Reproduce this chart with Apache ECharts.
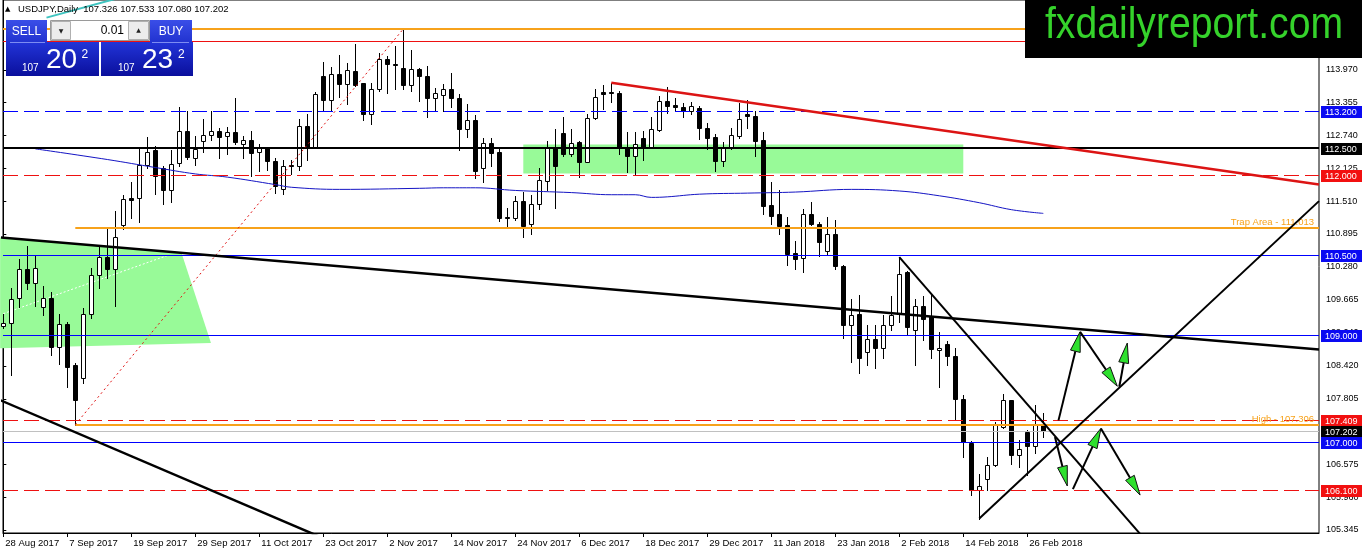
<!DOCTYPE html>
<html><head><meta charset="utf-8">
<script src="https://cdn.jsdelivr.net/npm/echarts@6/dist/echarts.min.js"></script>
<style>html,body{margin:0;padding:0;background:#fff;}#c{width:1362px;height:554px;}</style>
</head><body><div id="c"></div>
<script>
// ---------- DATA ----------
const symbolName = 'USDJPY,Daily';
const startDate = [2017, 7, 28];               // 28 Aug 2017 (month 0-based)
const noBarDays = ['2017-12-25', '2018-01-01'];
const labelEveryBars = 8;

const opens = [109.16,109.22,109.69,110.23,109.97,109.52,109.70,108.77,109.20,108.43,
 108.19,109.39,110.12,110.47,110.23,111.07,111.57,111.57,112.19,112.46,
 112.14,111.71,112.23,112.83,112.32,112.63,112.75,112.83,112.73,112.81,
 112.58,112.66,112.44,112.50,112.27,111.74,112.19,112.16,112.92,112.52,
 113.86,113.41,113.89,113.71,113.95,113.72,113.15,113.61,114.17,114.08,
 114.00,113.68,113.98,113.85,113.44,113.50,113.61,113.44,112.86,113.03,
 112.13,112.60,112.44,111.21,111.20,111.52,111.09,111.46,111.88,112.50,
 112.79,112.39,112.61,112.25,113.07,113.55,113.56,113.53,112.50,112.36,
 112.70,112.52,112.85,113.39,113.32,113.28,113.20,113.25,112.88,112.72,
 112.27,112.52,112.74,113.15,113.11,112.65,111.43,111.26,111.07,110.53,
 110.45,111.27,111.08,110.57,110.90,110.30,109.19,109.40,108.69,108.93,
 108.75,109.18,109.40,110.19,109.09,109.55,109.35,108.71,108.84,108.60,
 107.81,106.97,106.09,106.31,106.57,107.28,107.78,106.75,107.18,106.92,
 107.326];
const highs = [109.40,109.89,110.43,110.66,110.49,109.91,109.81,109.39,109.25,108.47,
 109.50,110.25,110.66,111.00,111.33,111.63,111.87,112.49,112.72,112.55,
 112.17,112.46,113.27,113.20,112.73,113.05,113.19,112.89,112.90,113.44,
 112.73,112.83,112.59,112.53,112.32,112.28,112.29,113.05,113.14,113.56,
 114.11,114.03,114.25,114.09,114.46,113.73,113.73,114.29,114.23,114.42,
 114.737,114.34,114.01,114.05,113.63,113.71,113.92,113.52,113.33,113.13,
 112.70,112.69,112.50,111.39,111.61,111.69,111.63,112.13,112.64,112.86,
 113.09,112.86,112.64,113.15,113.61,113.69,113.73,113.58,112.80,112.80,
 112.83,113.08,113.48,113.64,113.45,113.34,113.36,113.30,112.98,112.77,
 112.61,112.89,113.34,113.40,113.20,112.80,111.86,111.71,111.21,110.77,
 111.36,111.49,111.11,111.21,111.16,110.32,109.68,109.75,109.18,109.18,
 109.37,109.74,110.46,110.20,109.68,109.74,109.75,109.05,108.88,108.76,
 107.87,107.01,106.39,106.71,107.37,107.90,107.79,107.03,107.22,107.68,
 107.533];
const lows = [109.14,108.26,109.52,109.87,109.54,109.37,108.62,108.45,108.02,107.32,
 108.10,109.31,109.89,110.06,109.54,110.99,111.20,111.11,112.14,111.64,
 111.46,111.49,112.17,112.30,112.19,112.44,112.66,112.32,112.40,112.59,
 112.32,111.99,112.07,112.09,111.67,111.64,112.01,112.10,112.28,112.51,
 113.22,113.22,113.46,113.33,113.67,113.03,112.95,113.58,113.53,113.61,
 113.62,113.58,113.38,113.08,113.20,113.20,113.28,112.47,112.72,111.94,
 111.86,112.17,111.14,111.05,111.16,110.83,110.90,111.36,111.72,111.39,
 112.36,112.36,111.97,112.24,113.04,113.24,113.36,112.39,112.05,112.01,
 112.29,112.50,112.83,113.17,113.20,113.09,113.14,112.67,112.49,112.07,
 112.17,112.49,112.70,112.89,112.36,111.27,111.08,110.90,110.32,110.24,
 110.18,111.06,110.49,110.52,110.24,108.94,108.49,108.28,108.43,108.38,
 108.57,109.09,109.24,109.01,108.43,108.90,108.56,108.03,108.43,107.40,
 106.72,106.01,105.56,106.09,106.55,107.25,106.59,106.53,106.37,106.78,
 107.080];
const closes = [109.22,109.67,110.23,109.97,110.25,109.70,108.77,109.20,108.41,107.78,
 109.39,110.12,110.47,110.23,110.83,111.55,111.54,112.19,112.44,111.99,
 111.72,112.21,112.82,112.33,112.49,112.75,112.83,112.72,112.80,112.61,
 112.66,112.42,112.50,112.27,111.80,112.17,112.16,112.92,112.53,113.52,
 113.41,113.89,113.71,113.97,113.68,113.15,113.61,114.17,114.08,114.07,
 113.68,113.98,113.85,113.45,113.54,113.61,113.45,112.86,113.03,112.08,
 112.60,112.42,111.20,111.20,111.52,111.05,111.46,111.91,112.50,112.17,
 112.39,112.60,112.25,113.07,113.47,113.52,113.53,112.50,112.36,112.58,
 112.52,112.86,113.38,113.30,113.27,113.20,113.30,112.88,112.70,112.27,
 112.50,112.75,113.05,113.10,112.64,111.41,111.24,111.05,110.51,110.43,
 111.27,111.08,110.74,110.90,110.30,109.19,109.38,108.56,108.93,108.75,
 109.18,109.38,110.15,109.15,109.55,109.30,108.73,108.76,108.60,107.81,
 107.00,106.09,106.17,106.57,107.31,107.78,106.75,106.87,106.92,107.31,
 107.202];

// moving average read at sample bars
const maBars = [4,13,19,24,28,34,36,42,52,55,59,64,71,76,79,81,83,87,93,99,106,112,117,122,126,130];
const maValues = [112.49,112.29,112.14,112.02,111.96,111.82,111.77,111.73,111.75,111.76,111.76,111.71,111.67,111.63,111.63,111.58,111.59,111.64,111.66,111.68,111.73,111.70,111.61,111.48,111.35,111.28];

const priceTicks = [105.345,105.960,106.575,107.190,107.805,108.420,109.040,109.665,110.280,110.895,111.510,112.125,112.740,113.355,113.970];

// horizontal levels
const levelPrices = [114.737,114.510,113.200,112.500,112.000,110.500,109.000,107.409,107.202,107.000,106.100];
const levelKinds  = ['orange','red','blueDash','black','redDash','blue','blue','redDash','bid','blue','redDash'];
const levelBoxed  = [false,false,true,true,true,true,true,true,true,true,true];
const trapPrice = 111.013, trapText = 'Trap Area - 111.013';
const swingHighPrice = 107.306, swingHighText = 'High - 107.306';
const partialFromBar = 9;

const bidPrice = 107.202, askPrice = 107.232, lotSize = '0.01';

// trendlines [bar, price]
const redTrend = [[76,113.73],[164.46,111.82]];
const longBlackTrend = [[-0.4,110.83],[164.46,108.73]];
const lowerBlackTrend = [[-0.4,107.78],[50,104.55]];
const channelDown = [[112,110.46],[146,104.60]];
const channelUp = [[122,105.56],[164.46,111.51]];
const redDotted = [[9,107.32],[50,114.737]];
const whiteDotted = [[0,109.40],[20.5,110.49]];
const tealStroke = [[5.4,114.95],[14,115.30]];

// shaded zones (polygons in bar/price)
const zones = [
  [[-0.4,110.83],[22.3,110.53],[25.96,108.85],[-0.4,108.75]],
  [[65,112.57],[120,112.57],[120,112.03],[65,112.03]]
];
// arrows [fromBar, fromPrice, toBar, toPrice]
const arrows = [
  [131.9,107.40,134.6,109.06],
  [134.6,109.06,139.25,108.04],
  [139.5,108.03,140.5,108.85],
  [131.46,107.09,133.0,106.17],
  [133.7,106.11,137.2,107.25],
  [137.2,107.25,142.1,106.00]
];

// ---------- BUILD ----------
const FONT = '"Liberation Sans", Arial, sans-serif';
const ORANGE = '#f7a21b', RED = '#ee1111', BLUE = '#0000ff', BOXBLUE = '#0a0af2', BOXRED = '#f21010';
const X_MIN = -0.0375, X_MAX = 164.4625, Y_MIN = 105.289, Y_MAX = 115.280;

const months = ['Jan','Feb','Mar','Apr','May','Jun','Jul','Aug','Sep','Oct','Nov','Dec'];
const dates = [];
(function(){
  const d = new Date(Date.UTC(startDate[0], startDate[1], startDate[2]));
  while (dates.length < opens.length) {
    const wd = d.getUTCDay(), iso = d.toISOString().slice(0,10);
    if (wd !== 0 && wd !== 6 && noBarDays.indexOf(iso) < 0) dates.push(new Date(d.getTime()));
    d.setUTCDate(d.getUTCDate() + 1);
  }
})();
const dateLabel = i => { const d = dates[Math.round(i)]; return d ? d.getUTCDate() + ' ' + months[d.getUTCMonth()] + ' ' + d.getUTCFullYear() : ''; };
const tickBars = [];
for (let i = 0; i < opens.length; i += labelEveryBars) tickBars.push(i);

const candleData = opens.map((o, i) => [i, o, closes[i], lows[i], highs[i]]);
const maData = maBars.map((b, k) => [b, maValues[k]]);

const kindStyle = {
  orange:   {color: ORANGE, width: 2},
  red:      {color: RED, width: 1},
  blueDash: {color: BLUE, width: 1, dash: [15,6], box: BOXBLUE},
  black:    {color: '#000', width: 2, box: '#000'},
  redDash:  {color: RED, width: 1, dash: [15,6], box: BOXRED},
  blue:     {color: BLUE, width: 1, box: BOXBLUE},
  bid:      {color: '#c0c0c0', width: 1, box: '#000'}
};
const levels = levelPrices.map((p, k) => ({price: p, from: X_MIN, st: kindStyle[levelKinds[k]], boxed: levelBoxed[k]}));
levels.push({price: trapPrice, from: partialFromBar, st: kindStyle.orange, text: trapText});
levels.push({price: swingHighPrice, from: partialFromBar, st: kindStyle.orange, text: swingHighText});

function levelItem(params, api) {
  const lv = levels[params.dataIndex];
  const a = api.coord([lv.from, lv.price]), b = api.coord([X_MAX, lv.price]);
  const w = lv.st.width;
  const yr = Math.round(a[1]);
  const y = w % 2 === 1 ? yr + 0.5 : yr;
  const ch = [{type: 'line', shape: {x1: a[0], y1: y, x2: b[0], y2: y},
    style: {stroke: lv.st.color, lineWidth: w, lineDash: lv.st.dash || null}}];
  if (lv.boxed) {
    ch.push({type: 'rect', shape: {x: b[0] + 2, y: yr - 5, width: 41, height: 12}, style: {fill: lv.st.box}});
    ch.push({type: 'text', style: {x: b[0] + 6, y: yr + 1.5, text: lv.price.toFixed(3), fill: '#fff', font: '9px ' + FONT, verticalAlign: 'middle'}});
  }
  if (lv.text) {
    ch.push({type: 'text', style: {x: b[0] - 5, y: yr - 1, text: lv.text, fill: ORANGE, font: '9.5px ' + FONT, align: 'right', verticalAlign: 'bottom'}});
  }
  return {type: 'group', children: ch};
}
function candleItem(params, api) {
  const i = api.value(0), o = api.value(1), c = api.value(2), l = api.value(3), h = api.value(4);
  const pO = api.coord([i, o]), pC = api.coord([i, c]), pH = api.coord([i, h]), pL = api.coord([i, l]);
  const px = Math.round(pO[0]);
  const top = Math.round(Math.min(pO[1], pC[1])), bot = Math.round(Math.max(pO[1], pC[1]));
  const ch = [{type: 'line', shape: {x1: px + 0.5, y1: Math.round(pH[1]), x2: px + 0.5, y2: Math.round(pL[1]) + 1}, style: {stroke: '#000', lineWidth: 1}}];
  if (bot - top < 1) {
    ch.push({type: 'line', shape: {x1: px - 2, y1: top + 0.5, x2: px + 3, y2: top + 0.5}, style: {stroke: '#000', lineWidth: 1}});
  } else {
    ch.push({type: 'rect', shape: {x: px - 1.5, y: top + 0.5, width: 4, height: bot - top}, style: {fill: c > o ? '#fff' : '#000', stroke: '#000', lineWidth: 1}});
  }
  return {type: 'group', children: ch};
}
function zoneItem(params, api) {
  const pts = zones[params.dataIndex].map(v => api.coord(v));
  return {type: 'polygon', shape: {points: pts}, style: {fill: '#98fa98'}};
}
function arrowItem(params, api) {
  const a = api.coord([api.value(0), api.value(1)]), b = api.coord([api.value(2), api.value(3)]);
  const dx = b[0] - a[0], dy = b[1] - a[1], len = Math.hypot(dx, dy), ux = dx / len, uy = dy / len;
  const L = 20, W = 5;
  const bx = b[0] - ux * L, by = b[1] - uy * L;
  return {type: 'group', children: [
    {type: 'line', shape: {x1: a[0], y1: a[1], x2: bx, y2: by}, style: {stroke: '#000', lineWidth: 2}},
    {type: 'polygon', shape: {points: [[b[0], b[1]], [bx - uy * W, by + ux * W], [bx + uy * W, by - ux * W]]},
     style: {fill: '#2ee02e', stroke: '#111', lineWidth: 1}}
  ]};
}
function trend(data, color, width, type, z) {
  return {type: 'line', data: data, showSymbol: false, symbol: 'none', clip: true, silent: true, z: z || 6,
    lineStyle: {color: color, width: width, type: type || 'solid'}};
}

const n = opens.length - 1;
const header = symbolName + '  ' + [opens[n], highs[n], lows[n], closes[n]].map(v => v.toFixed(3)).join(' ');
const splitQuote = q => { const s = q.toFixed(3); return [s.slice(0,3), s.slice(4,6), s.slice(6)]; };
const bidParts = splitQuote(bidPrice), askParts = splitQuote(askPrice);
const grad = (a, b) => ({type: 'linear', x: 0, y: 0, x2: 0, y2: 1, colorStops: [{offset: 0, color: a}, {offset: 1, color: b}]});
const T = (x, y, text, font, fill, align) => ({type: 'text', z: 102, style: {x: x, y: y, text: text, font: font, fill: fill, align: align || 'left', verticalAlign: 'middle'}});

const graphics = [
  {type: 'rect', z: 100, shape: {x: 1025, y: 0, width: 337, height: 58}, style: {fill: '#000'}},
  {type: 'text', z: 102, x: 1194, y: 26, scaleX: 0.89, style: {x: 0, y: 0, text: 'fxdailyreport.com', font: '44px ' + FONT, fill: '#35d22b', align: 'center', verticalAlign: 'middle'}},
  T(5, 9, '▲', '7px "DejaVu Sans"', '#000'),
  T(18, 9.5, header, '9.5px ' + FONT, '#000'),
  {type: 'rect', z: 100, shape: {x: 6, y: 20, width: 41, height: 22}, style: {fill: grad('#3a4ee8', '#2233d0')}},
  {type: 'rect', z: 100, shape: {x: 150, y: 20, width: 42, height: 22}, style: {fill: grad('#3a4ee8', '#2233d0')}},
  {type: 'rect', z: 100, shape: {x: 6, y: 42, width: 93, height: 34}, style: {fill: grad('#2234d8', '#0a0f9c')}},
  {type: 'rect', z: 100, shape: {x: 101, y: 42, width: 92, height: 34}, style: {fill: grad('#2234d8', '#0a0f9c')}},
  {type: 'line', z: 101, shape: {x1: 10, y1: 42.5, x2: 45, y2: 42.5}, style: {stroke: '#7d8cf2', lineWidth: 1}},
  {type: 'line', z: 101, shape: {x1: 152, y1: 42.5, x2: 189, y2: 42.5}, style: {stroke: '#7d8cf2', lineWidth: 1}},
  {type: 'rect', z: 100, shape: {x: 50.5, y: 20.5, width: 99, height: 20}, style: {fill: '#fff', stroke: '#9a9a9a', lineWidth: 1}},
  {type: 'rect', z: 101, shape: {x: 51.5, y: 21.5, width: 19, height: 18}, style: {fill: '#ececec', stroke: '#b0b0b0', lineWidth: 1}},
  {type: 'rect', z: 101, shape: {x: 128.5, y: 21.5, width: 20, height: 18}, style: {fill: '#ececec', stroke: '#b0b0b0', lineWidth: 1}},
  T(61, 31, '▼', '6px "DejaVu Sans"', '#222', 'center'),
  T(138.5, 30.5, '▲', '6px "DejaVu Sans"', '#222', 'center'),
  T(124, 31, lotSize, '12px ' + FONT, '#000', 'right'),
  T(26.5, 31.5, 'SELL', '12px ' + FONT, '#fff', 'center'),
  T(171, 31.5, 'BUY', '12px ' + FONT, '#fff', 'center'),
  T(22, 68.5, bidParts[0], '10px ' + FONT, '#fff'),
  T(46, 60.5, bidParts[1], '28px ' + FONT, '#fff'),
  T(81.5, 54.5, bidParts[2], '12px ' + FONT, '#fff'),
  T(118, 68.5, askParts[0], '10px ' + FONT, '#fff'),
  T(142, 60.5, askParts[1], '28px ' + FONT, '#fff'),
  T(178, 54.5, askParts[2], '12px ' + FONT, '#fff')
];

const chart = echarts.init(document.getElementById('c'), null, {renderer: 'canvas'});
chart.setOption({
  animation: false,
  backgroundColor: '#fff',
  grid: {left: 3, right: 43, top: -1, bottom: 21, show: true, borderColor: '#000', borderWidth: 1},
  xAxis: {
    type: 'value', min: X_MIN, max: X_MAX, splitLine: {show: false},
    axisLine: {show: true, onZero: false, lineStyle: {color: '#000', width: 1}},
    axisTick: {show: true, customValues: tickBars, length: 4, lineStyle: {color: '#000'}},
    axisLabel: {customValues: tickBars, formatter: v => dateLabel(v), align: 'left', margin: 5, padding: [0,0,0,2],
      fontSize: 9.5, fontFamily: FONT, color: '#000'}
  },
  yAxis: {
    type: 'value', position: 'right', min: Y_MIN, max: Y_MAX, splitLine: {show: false},
    axisLine: {show: true, lineStyle: {color: '#000', width: 1}},
    axisTick: {show: true, customValues: priceTicks, length: 3, lineStyle: {color: '#000'}},
    axisLabel: {customValues: priceTicks, formatter: v => v.toFixed(3), margin: 7, fontSize: 9, fontFamily: FONT, color: '#000'}
  },
  series: [
    {type: 'custom', z: 1, silent: true, renderItem: zoneItem, data: zones.map((z, k) => [k]), encode: {x: -1, y: -1}},
    {type: 'custom', z: 3, silent: true, renderItem: candleItem, data: candleData, encode: {x: 0, y: [1,2,3,4]}},
    {type: 'line', z: 4, data: maData, smooth: 0.4, showSymbol: false, symbol: 'none', silent: true, lineStyle: {color: '#1414c4', width: 1}},
    {type: 'custom', z: 5, silent: true, clip: false, renderItem: levelItem, data: levels.map((l, k) => [k]), encode: {x: -1, y: -1}},
    trend(whiteDotted, '#ffffff', 1, [2,2], 2),
    trend(redDotted, '#e01515', 1, [2,3]),
    trend(tealStroke, '#3fc4c0', 2),
    trend(redTrend, '#dc1414', 2.5),
    trend(longBlackTrend, '#000', 2.5),
    trend(lowerBlackTrend, '#000', 2.5),
    trend(channelDown, '#000', 2),
    trend(channelUp, '#000', 2),
    {type: 'custom', z: 7, silent: true, clip: false, renderItem: arrowItem, data: arrows, encode: {x: [0,2], y: [1,3]}}
  ],
  graphic: graphics
});
</script></body></html>
